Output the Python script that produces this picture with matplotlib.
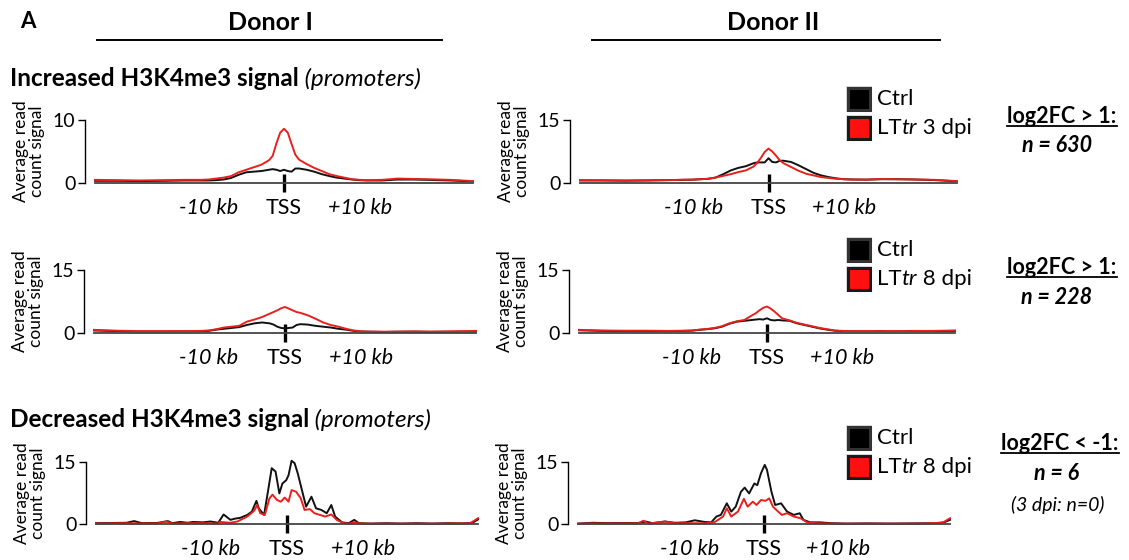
import matplotlib
matplotlib.use('Agg')
import matplotlib.pyplot as plt
from matplotlib.patches import Rectangle
from matplotlib.lines import Line2D

plt.rcParams['font.family'] = ['Lato', 'DejaVu Sans']

# ---- data (kb from TSS, average read count signal) ----
xs_top = [-25, -22, -19, -16, -13, -11, -10, -9, -8, -7, -6, -5, -4, -3, -2, -1.5, -1, -0.5, 0,
          0.5, 1, 1.5, 2, 3, 4, 5, 6, 7, 8, 9, 10, 11, 13, 15, 17, 19, 22, 25]

r1_d1_ctrl = [0.35, 0.35, 0.3, 0.35, 0.4, 0.4, 0.4, 0.45, 0.55, 0.8, 1.3, 1.7, 1.8, 1.9, 2.1, 2.2, 2.1, 1.9, 2.1,
              1.9, 1.8, 2.3, 2.3, 2.1, 1.8, 1.4, 1.1, 0.85, 0.7, 0.55, 0.45, 0.4, 0.4, 0.55, 0.55, 0.5, 0.4, 0.25]
r1_d1_lt = [0.5, 0.45, 0.4, 0.45, 0.5, 0.5, 0.55, 0.7, 0.85, 1.1, 1.7, 2.1, 2.5, 2.9, 3.6, 4.3, 6.3, 8.0, 8.6,
            8.0, 6.2, 4.5, 3.7, 3.0, 2.4, 1.9, 1.4, 1.1, 0.85, 0.6, 0.5, 0.45, 0.5, 0.7, 0.65, 0.6, 0.5, 0.3]

r1_d2_ctrl = [0.6, 0.6, 0.55, 0.6, 0.7, 0.75, 0.8, 0.9, 1.0, 1.3, 2.1, 3.0, 3.6, 4.0, 4.7, 4.9, 4.9, 4.9, 5.9,
              5.0, 4.9, 5.3, 5.3, 5.0, 4.2, 3.3, 2.4, 1.8, 1.4, 1.1, 0.9, 0.85, 0.8, 0.9, 0.9, 0.85, 0.7, 0.4]
r1_d2_lt = [0.7, 0.65, 0.6, 0.65, 0.7, 0.8, 0.8, 0.9, 1.0, 1.3, 1.7, 2.1, 2.6, 3.0, 3.9, 4.8, 6.0, 7.4, 8.2,
            7.5, 6.5, 5.4, 4.7, 3.8, 2.9, 2.2, 1.8, 1.4, 1.2, 1.0, 0.9, 0.8, 0.8, 0.95, 0.9, 0.85, 0.75, 0.45]

r2_d1_ctrl = [0.6, 0.45, 0.35, 0.35, 0.4, 0.45, 0.5, 0.8, 1.0, 1.2, 1.4, 1.9, 2.3, 2.5, 2.3, 2.0, 1.5, 1.2, 1.1,
              1.2, 1.3, 1.9, 2.1, 2.0, 1.7, 1.5, 1.3, 1.0, 0.8, 0.5, 0.35, 0.3, 0.25, 0.3, 0.3, 0.25, 0.3, 0.35]
r2_d1_lt = [0.75, 0.55, 0.45, 0.45, 0.45, 0.5, 0.6, 0.9, 1.3, 1.5, 1.7, 2.7, 3.2, 3.8, 4.6, 5.0, 5.4, 5.9, 6.2,
            5.8, 5.4, 5.0, 4.8, 4.2, 3.4, 2.5, 1.9, 1.5, 1.0, 0.6, 0.4, 0.35, 0.3, 0.35, 0.4, 0.35, 0.4, 0.5]

r2_d2_ctrl = [0.65, 0.5, 0.45, 0.45, 0.45, 0.5, 0.55, 0.75, 0.9, 1.1, 1.5, 2.2, 2.7, 2.9, 3.1, 3.2, 3.3, 3.2, 3.5,
              3.1, 3.0, 3.1, 3.0, 2.9, 2.3, 1.9, 1.5, 1.1, 0.8, 0.55, 0.45, 0.4, 0.4, 0.45, 0.4, 0.45, 0.45, 0.5]
r2_d2_lt = [0.75, 0.6, 0.55, 0.55, 0.5, 0.55, 0.6, 0.8, 0.95, 1.2, 1.6, 2.3, 2.8, 3.1, 4.2, 4.7, 5.4, 6.0, 6.3,
            5.8, 5.1, 4.3, 3.5, 3.0, 2.4, 2.0, 1.6, 1.2, 0.9, 0.6, 0.5, 0.45, 0.45, 0.5, 0.45, 0.5, 0.5, 0.6]

r3_d1_ctrl_x = [-25, -23, -21, -20, -19, -17, -15.6, -15, -14, -13, -12.3, -11, -10, -9, -8.3, -7.4, -6.8, -6.1,
                -5.2, -4.6, -4.0, -3.7, -3.0, -2.5, -2.0, -1.5, -1.0, -0.6, -0.1, 0.2, 0.6, 1.0, 1.4, 1.9, 2.5,
                3.2, 3.8, 4.5, 5.2, 5.8, 6.3, 7.2, 8.1, 8.8, 9.4, 11, 13, 15, 17, 19, 21, 23, 24.3, 25]
r3_d1_ctrl = [0.2, 0.25, 0.3, 0.7, 0.2, 0.25, 0.7, 0.2, 0.5, 0.3, 0.5, 0.4, 0.6, 0.3, 2.3, 1.0, 1.3, 1.5,
              2.2, 3.0, 5.6, 3.8, 2.2, 7.8, 13.5, 12.7, 7.4, 9.8, 10.6, 11.8, 15.3, 14.7, 12.3, 8.6, 4.2,
              6.6, 3.8, 3.4, 2.6, 4.6, 1.8, 0.4, 0.2, 1.0, 0.2, 0.1, 0.2, 0.1, 0.2, 0.1, 0.2, 0.15, 0.3, 1.1]
r3_d1_lt_x = [-25, -23, -21, -19, -17, -15.8, -15, -13, -11, -10, -9, -8.8, -7.4, -6.5, -5.2, -4.3, -3.9, -3.5,
              -2.9, -2.3, -1.9, -1.3, -0.8, -0.3, 0.2, 0.6, 1.2, 1.8, 2.3, 3.0, 3.6, 4.3, 5.0, 5.8, 6.5, 7.4,
              8.2, 8.8, 9.5, 12, 15, 18, 21, 24, 25]
r3_d1_lt = [0.1, 0.15, 0.2, 0.1, 0.15, 0.6, 0.1, 0.2, 0.2, 0.15, 0.1, 0.5, 0.3, 0.6, 1.8, 3.2, 4.6, 2.6,
            2.2, 6.2, 7.1, 5.8, 5.4, 6.4, 5.4, 8.2, 7.8, 6.2, 3.4, 3.6, 2.6, 2.2, 1.8, 2.3, 1.0, 0.2,
            0.1, 0.4, 0.1, 0.1, 0.1, 0.1, 0.1, 0.2, 1.4]

r3_d2_ctrl_x = [-25, -23, -21, -19, -17, -15.9, -15, -13.3, -12, -10.5, -9.3, -8, -7.1, -6.4, -5.8, -5.0, -4.4,
                -3.8, -3.1, -2.6, -2.0, -1.3, -0.9, -0.4, 0.1, 0.4, 1.0, 1.5, 2.3, 3.1, 4.0, 4.8, 5.3, 6.2,
                7.5, 9, 11, 14, 17, 20, 23, 24.2, 25]
r3_d2_ctrl = [0.1, 0.3, 0.2, 0.25, 0.2, 0.6, 0.2, 0.6, 0.3, 0.4, 0.9, 0.5, 0.4, 1.8, 2.2, 5.0, 3.0,
              4.2, 7.8, 8.8, 7.4, 9.8, 9.4, 12.3, 14.3, 13.1, 7.8, 4.6, 5.0, 3.0, 2.2, 2.6, 1.0, 0.4,
              0.4, 0.2, 0.1, 0.15, 0.1, 0.15, 0.2, 0.4, 1.0]
r3_d2_lt_x = [-25, -23, -21, -19, -17, -16.2, -15.5, -13.3, -12, -10, -8, -6.6, -5.5, -5.0, -4.4, -3.5, -2.7,
              -2.2, -1.5, -1.0, -0.4, 0.2, 0.7, 1.2, 1.9, 2.4, 3.1, 4.0, 4.9, 5.8, 7, 9, 12, 15, 18, 21, 24, 25]
r3_d2_lt = [0.1, 0.15, 0.1, 0.15, 0.1, 0.8, 0.1, 0.6, 0.2, 0.2, 0.15, 0.5, 1.8, 3.8, 1.8, 3.0, 6.1,
            4.2, 5.4, 4.6, 5.8, 5.6, 6.2, 4.2, 3.0, 2.2, 2.6, 1.8, 1.4, 0.4, 0.2, 0.1, 0.1, 0.1, 0.1, 0.1, 0.3, 1.4]

tick_pos = [-10, 0, 10]
tick_text = ['-10 kb', 'TSS', '+10 kb']

W, H = 1129, 560
fig = plt.figure(figsize=(W / 100, H / 100), dpi=100)
RED = '#e8201c'
BLK = '#111111'


def fx(x):
    return x / W


def fy(y):
    return 1 - y / H


def px_axes(x0, y0, x1, y1):
    return fig.add_axes([fx(x0), fy(y1), (x1 - x0) / W, (y1 - y0) / H])


def profile(ax, ymax, xb, yb, xr, yr):
    ax.plot(xb, yb, color=BLK, lw=1.4, clip_on=False)
    ax.plot(xr, yr, color=RED, lw=1.4, clip_on=False)
    ax.set_xlim(-25, 25)
    ax.set_ylim(0, ymax)
    for s in ['top', 'right']:
        ax.spines[s].set_visible(False)
    ax.spines['left'].set_position(('outward', 7))
    ax.spines['left'].set_linewidth(1.0)
    ax.spines['bottom'].set_color('#444444')
    ax.spines['bottom'].set_linewidth(1.3)
    ax.set_yticks([0, ymax])
    ax.tick_params(axis='y', labelsize=14, length=5, width=1.0, pad=2)
    ax.xaxis.remove_overlapping_locs = False
    ax.set_xticks(tick_pos)
    ax.set_xticklabels(tick_text, fontsize=15.5)
    ax.tick_params(axis='x', which='major', length=0, pad=11)
    for lab in ax.get_xticklabels():
        if lab.get_text() != 'TSS':
            lab.set_style('italic')
    ax.set_xticks([0], minor=True)
    ax.tick_params(axis='x', which='minor', direction='inout', length=13, width=2.4, color='black')
    ax.set_ylabel('Average read\ncount signal', fontsize=12.5, labelpad=6, linespacing=1.0)
    ax.patch.set_alpha(0)


ax = px_axes(95, 120, 473, 183)
profile(ax, 10, xs_top, r1_d1_ctrl, xs_top, r1_d1_lt)
ax = px_axes(580, 120, 957, 183)
profile(ax, 15, xs_top, r1_d2_ctrl, xs_top, r1_d2_lt)
ax = px_axes(94, 270, 476, 333)
profile(ax, 15, xs_top, r2_d1_ctrl, xs_top, r2_d1_lt)
ax = px_axes(579, 270, 955, 333)
profile(ax, 15, xs_top, r2_d2_ctrl, xs_top, r2_d2_lt)
ax = px_axes(96, 462, 478, 524)
profile(ax, 15, r3_d1_ctrl_x, r3_d1_ctrl, r3_d1_lt_x, r3_d1_lt)
ax = px_axes(578, 462, 950, 524)
profile(ax, 15, r3_d2_ctrl_x, r3_d2_ctrl, r3_d2_lt_x, r3_d2_lt)

# ---- headers ----
fig.text(fx(20), fy(22), 'A', fontsize=16, fontweight='bold', va='center', ha='left')
fig.text(fx(270), fy(22), 'Donor I', fontsize=18, fontweight='bold', va='center', ha='center')
fig.text(fx(773), fy(22), 'Donor II', fontsize=18, fontweight='bold', va='center', ha='center')
fig.add_artist(Line2D([fx(97), fx(442)], [fy(40), fy(40)], color='black', lw=1.4))
fig.add_artist(Line2D([fx(592), fx(940)], [fy(40), fy(40)], color='black', lw=1.4))

renderer = fig.canvas.get_renderer()


def rich(x, y, parts, size, va='baseline'):
    cur = x
    for s, w, st in parts:
        t = fig.text(fx(cur), fy(y), s, fontsize=size, fontweight=w, style=st, va=va, ha='left')
        cur += t.get_window_extent(renderer).width


rich(10, 86, [('Increased H3K4me3 signal', 'bold', 'normal'), (' (promoters)', 'normal', 'italic')], 17.5)
rich(10, 427, [('Decreased H3K4me3 signal', 'bold', 'normal'), (' (promoters)', 'normal', 'italic')], 17.5)


def underlined(x, y, s, size):
    t = fig.text(fx(x), fy(y), s, fontsize=size, fontweight='bold', ha='center', va='baseline')
    bb = t.get_window_extent(renderer)
    yl = fy(y + 3)
    fig.add_artist(Line2D([bb.x0 / W, bb.x1 / W], [yl, yl], color='black', lw=1.3))


underlined(1062, 123, 'log2FC > 1:', 15.5)
fig.text(fx(1057), fy(146), 'n = 630', fontsize=15.5, fontweight='bold', style='italic', ha='center', va='center')
underlined(1062, 274, 'log2FC > 1:', 15.5)
fig.text(fx(1057), fy(297), 'n = 228', fontsize=15.5, fontweight='bold', style='italic', ha='center', va='center')
underlined(1060, 450, 'log2FC < -1:', 15.5)
fig.text(fx(1057), fy(473), 'n = 6', fontsize=15.5, fontweight='bold', style='italic', ha='center', va='center')
fig.text(fx(1058), fy(505), '(3 dpi: n=0)', fontsize=14, style='italic', ha='center', va='center')

# ---- legends ----
legend_rows = [(99, 128, '3'), (250, 279, '8'), (438, 467, '8')]
for yc, yr, d in legend_rows:
    for y, fc, ec in [(yc, 'black', '#333333'), (yr, '#ff1010', '#1a1a1a')]:
        fig.add_artist(Rectangle((fx(846), fy(y + 13)), 26 / W, 26 / H, facecolor='#bbbbbb',
                                 edgecolor='none', alpha=0.5))
        fig.add_artist(Rectangle((fx(848), fy(y + 11)), 22 / W, 22 / H, facecolor=fc,
                                 edgecolor=ec, lw=2.2))
    fig.text(fx(877), fy(yc + 6), 'Ctrl', fontsize=16, va='baseline', ha='left')
    rich(877, yr + 6, [('LT', 'normal', 'normal'), ('tr', 'normal', 'italic'),
                       (' ' + d + ' dpi', 'normal', 'normal')], 16)

fig.savefig('out.png', dpi=100)
